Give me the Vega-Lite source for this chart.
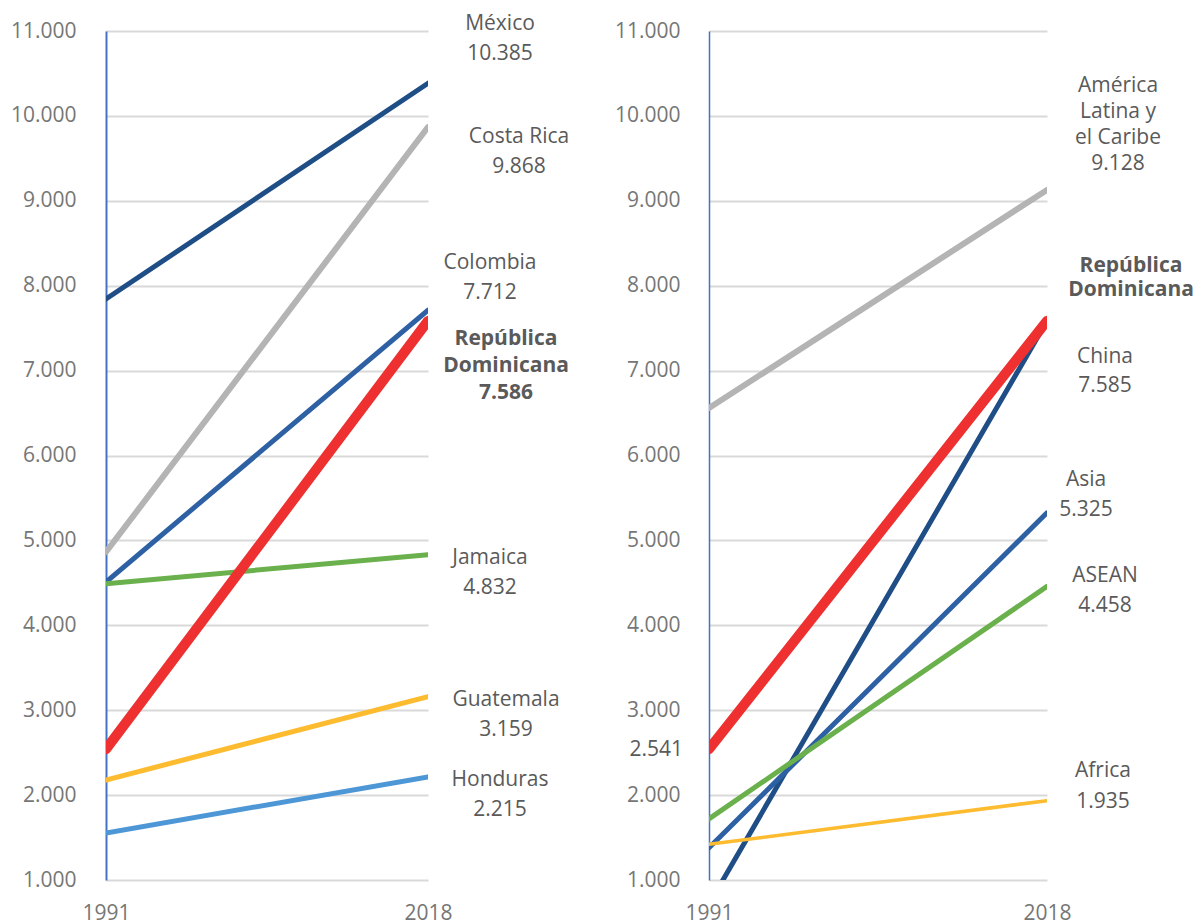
{
  "$schema": "https://vega.github.io/schema/vega-lite/v6.json",
  "padding": {"left": 10, "top": 13, "right": 0, "bottom": 0},
  "bounds": "flush",
  "spacing": 281,
  "config": {
    "font": "Open Sans",
    "view": {"stroke": null},
    "axisX": {"domain": false, "ticks": false, "tickSize": 0, "grid": false, "labelFontSize": 21, "labelColor": "#767676", "labelPadding": 22, "labelAngle": 0, "title": null},
    "axisY": {"domainColor": "#4472c4", "domainWidth": 2, "ticks": false, "tickSize": 0, "grid": true, "gridColor": "#d9d9d9", "gridWidth": 2, "labelFontSize": 21, "labelColor": "#767676", "title": null}
  },
  "datasets": {
    "left": [
      {"name": "México", "year": 1991, "value": 7843},
      {"name": "México", "year": 2018, "value": 10385},
      {"name": "Costa Rica", "year": 1991, "value": 4863},
      {"name": "Costa Rica", "year": 2018, "value": 9868},
      {"name": "Colombia", "year": 1991, "value": 4510},
      {"name": "Colombia", "year": 2018, "value": 7712},
      {"name": "Jamaica", "year": 1991, "value": 4490},
      {"name": "Jamaica", "year": 2018, "value": 4832},
      {"name": "Guatemala", "year": 1991, "value": 2178},
      {"name": "Guatemala", "year": 2018, "value": 3159},
      {"name": "Honduras", "year": 1991, "value": 1554},
      {"name": "Honduras", "year": 2018, "value": 2215},
      {"name": "República Dominicana", "year": 1991, "value": 2541},
      {"name": "República Dominicana", "year": 2018, "value": 7586}
    ],
    "right": [
      {"name": "América Latina y el Caribe", "year": 1991, "value": 6559},
      {"name": "América Latina y el Caribe", "year": 2018, "value": 9128},
      {"name": "China", "year": 1991, "value": 717},
      {"name": "China", "year": 2018, "value": 7585},
      {"name": "Asia", "year": 1991, "value": 1380},
      {"name": "Asia", "year": 2018, "value": 5325},
      {"name": "ASEAN", "year": 1991, "value": 1720},
      {"name": "ASEAN", "year": 2018, "value": 4458},
      {"name": "Africa", "year": 1991, "value": 1420},
      {"name": "Africa", "year": 2018, "value": 1935},
      {"name": "República Dominicana", "year": 1991, "value": 2541},
      {"name": "República Dominicana", "year": 2018, "value": 7586}
    ],
    "labelsL": [
      {"name": "México", "year": 2018, "value": 10385, "label": "México\n10.385"},
      {"name": "Costa Rica", "year": 2018, "value": 9868, "label": "Costa Rica\n9.868"},
      {"name": "Colombia", "year": 2018, "value": 7712, "label": "Colombia\n7.712"},
      {"name": "República Dominicana", "year": 2018, "value": 7586, "label": "República\nDominicana\n7.586"},
      {"name": "Jamaica", "year": 2018, "value": 4832, "label": "Jamaica\n4.832"},
      {"name": "Guatemala", "year": 2018, "value": 3159, "label": "Guatemala\n3.159"},
      {"name": "Honduras", "year": 2018, "value": 2215, "label": "Honduras\n2.215"}
    ],
    "labelsR": [
      {"name": "América Latina y el Caribe", "year": 2018, "value": 9128, "label": "América\nLatina y\nel Caribe\n9.128"},
      {"name": "República Dominicana", "year": 2018, "value": 7586, "label": "República\nDominicana"},
      {"name": "China", "year": 2018, "value": 7585, "label": "China\n7.585"},
      {"name": "Asia", "year": 2018, "value": 5325, "label": "Asia\n5.325"},
      {"name": "ASEAN", "year": 2018, "value": 4458, "label": "ASEAN\n4.458"},
      {"name": "Africa", "year": 2018, "value": 1935, "label": "Africa\n1.935"},
      {"name": "RD1991", "year": 1991, "value": 2541, "label": "2.541"}
    ]
  },
  "hconcat": [
    {
      "width": 322,
      "height": 849,
      "encoding": {
        "x": {"field": "year", "type": "ordinal", "scale": {"type": "point", "padding": 0}, "axis": {}},
        "y": {"field": "value", "type": "quantitative", "scale": {"domain": [1000, 11000], "nice": false, "zero": false}, "axis": {"labelPadding": 30, "values": [1000,2000,3000,4000,5000,6000,7000,8000,9000,10000,11000], "labelExpr": "replace(format(datum.value, ','), ',', '.')"}}
      },
      "layer": [
        {
          "data": {"name": "left"},
          "transform": [{"filter": "datum.name !== 'República Dominicana' && datum.name !== 'Costa Rica'"}],
          "mark": {"type": "line", "strokeWidth": 5, "clip": true, "strokeCap": "round"},
          "encoding": {
            "detail": {"field": "name"},
            "color": {"field": "name", "type": "nominal", "legend": null, "scale": {"domain": ["México", "Costa Rica", "Colombia", "Jamaica", "Guatemala", "Honduras", "República Dominicana"], "range": ["#1f4e87", "#b4b4b4", "#2e60a4", "#6ab04c", "#fdbb2f", "#4e97d6", "#ee3030"]}}
          }
        },
        {
          "data": {"name": "left"},
          "transform": [{"filter": "datum.name === 'Costa Rica'"}],
          "mark": {"type": "line", "strokeWidth": 6, "clip": true, "strokeCap": "round", "color": "#b4b4b4"},
          "encoding": {}
        },
        {
          "data": {"name": "left"},
          "transform": [{"filter": "datum.name === 'República Dominicana'"}],
          "mark": {"type": "line", "strokeWidth": 10, "clip": true, "strokeCap": "round", "color": "#ee3030"},
          "encoding": {}
        },
        {
          "data": {"name": "labelsL"},
          "transform": [{"filter": "datum.name === 'México'"}],
          "mark": {"type": "text", "fontSize": 21, "color": "#5a5a5a", "align": "center", "baseline": "top", "lineBreak": "\n", "lineHeight": 30, "dx": 72, "dy": -70},
          "encoding": {"text": {"field": "label"}}
        },
        {
          "data": {"name": "labelsL"},
          "transform": [{"filter": "datum.name === 'Costa Rica'"}],
          "mark": {"type": "text", "fontSize": 21, "color": "#5a5a5a", "align": "center", "baseline": "top", "lineBreak": "\n", "lineHeight": 30, "dx": 91, "dy": -1},
          "encoding": {"text": {"field": "label"}}
        },
        {
          "data": {"name": "labelsL"},
          "transform": [{"filter": "datum.name === 'Colombia'"}],
          "mark": {"type": "text", "fontSize": 21, "color": "#5a5a5a", "align": "center", "baseline": "top", "lineBreak": "\n", "lineHeight": 30, "dx": 62, "dy": -58},
          "encoding": {"text": {"field": "label"}}
        },
        {
          "data": {"name": "labelsL"},
          "transform": [{"filter": "datum.name === 'República Dominicana'"}],
          "mark": {"type": "text", "fontSize": 21, "fontWeight": "bold", "color": "#5a5a5a", "align": "center", "baseline": "top", "lineBreak": "\n", "lineHeight": 27, "dx": 78, "dy": 7},
          "encoding": {"text": {"field": "label"}}
        },
        {
          "data": {"name": "labelsL"},
          "transform": [{"filter": "datum.name === 'Jamaica'"}],
          "mark": {"type": "text", "fontSize": 21, "color": "#5a5a5a", "align": "center", "baseline": "top", "lineBreak": "\n", "lineHeight": 30, "dx": 62, "dy": -8},
          "encoding": {"text": {"field": "label"}}
        },
        {
          "data": {"name": "labelsL"},
          "transform": [{"filter": "datum.name === 'Guatemala'"}],
          "mark": {"type": "text", "fontSize": 21, "color": "#5a5a5a", "align": "center", "baseline": "top", "lineBreak": "\n", "lineHeight": 30, "dx": 78, "dy": -8},
          "encoding": {"text": {"field": "label"}}
        },
        {
          "data": {"name": "labelsL"},
          "transform": [{"filter": "datum.name === 'Honduras'"}],
          "mark": {"type": "text", "fontSize": 21, "color": "#5a5a5a", "align": "center", "baseline": "top", "lineBreak": "\n", "lineHeight": 30, "dx": 72, "dy": -8},
          "encoding": {"text": {"field": "label"}}
        }
      ]
    },
    {
      "width": 338,
      "height": 849,
      "encoding": {
        "x": {"field": "year", "type": "ordinal", "scale": {"type": "point", "padding": 0}, "axis": {}},
        "y": {"field": "value", "type": "quantitative", "scale": {"domain": [1000, 11000], "nice": false, "zero": false}, "axis": {"labelPadding": 29, "domainWidth": 1.5, "values": [1000,2000,3000,4000,5000,6000,7000,8000,9000,10000,11000], "labelExpr": "replace(format(datum.value, ','), ',', '.')"}}
      },
      "layer": [
        {
          "data": {"name": "right"},
          "transform": [{"filter": "datum.name !== 'República Dominicana' && datum.name !== 'América Latina y el Caribe' && datum.name !== 'Africa'"}],
          "mark": {"type": "line", "strokeWidth": 5, "clip": true, "strokeCap": "round"},
          "encoding": {
            "detail": {"field": "name"},
            "color": {"field": "name", "type": "nominal", "legend": null, "scale": {"domain": ["China", "América Latina y el Caribe", "Asia", "ASEAN", "Africa", "República Dominicana"], "range": ["#1f4e87", "#b4b4b4", "#2e60a4", "#6ab04c", "#fdbb2f", "#ee3030"]}}
          }
        },
        {
          "data": {"name": "right"},
          "transform": [{"filter": "datum.name === 'Africa'"}],
          "mark": {"type": "line", "strokeWidth": 3.5, "clip": true, "strokeCap": "round", "color": "#fdbb2f"},
          "encoding": {}
        },
        {
          "data": {"name": "right"},
          "transform": [{"filter": "datum.name === 'América Latina y el Caribe'"}],
          "mark": {"type": "line", "strokeWidth": 6, "clip": true, "strokeCap": "round", "color": "#b4b4b4"},
          "encoding": {}
        },
        {
          "data": {"name": "right"},
          "transform": [{"filter": "datum.name === 'República Dominicana'"}],
          "mark": {"type": "line", "strokeWidth": 10, "clip": true, "strokeCap": "round", "color": "#ee3030"},
          "encoding": {}
        },
        {
          "data": {"name": "labelsR"},
          "transform": [{"filter": "datum.name === 'América Latina y el Caribe'"}],
          "mark": {"type": "text", "fontSize": 21, "color": "#5a5a5a", "align": "center", "baseline": "top", "lineBreak": "\n", "lineHeight": 26, "dx": 71, "dy": -115},
          "encoding": {"text": {"field": "label"}}
        },
        {
          "data": {"name": "labelsR"},
          "transform": [{"filter": "datum.name === 'República Dominicana'"}],
          "mark": {"type": "text", "fontSize": 21, "fontWeight": "bold", "color": "#5a5a5a", "align": "center", "baseline": "top", "lineBreak": "\n", "lineHeight": 24, "dx": 84, "dy": -66},
          "encoding": {"text": {"field": "label"}}
        },
        {
          "data": {"name": "labelsR"},
          "transform": [{"filter": "datum.name === 'China'"}],
          "mark": {"type": "text", "fontSize": 21, "color": "#5a5a5a", "align": "center", "baseline": "top", "lineBreak": "\n", "lineHeight": 29, "dx": 58, "dy": 25},
          "encoding": {"text": {"field": "label"}}
        },
        {
          "data": {"name": "labelsR"},
          "transform": [{"filter": "datum.name === 'Asia'"}],
          "mark": {"type": "text", "fontSize": 21, "color": "#5a5a5a", "align": "center", "baseline": "top", "lineBreak": "\n", "lineHeight": 30, "dx": 39, "dy": -44},
          "encoding": {"text": {"field": "label"}}
        },
        {
          "data": {"name": "labelsR"},
          "transform": [{"filter": "datum.name === 'ASEAN'"}],
          "mark": {"type": "text", "fontSize": 21, "color": "#5a5a5a", "align": "center", "baseline": "top", "lineBreak": "\n", "lineHeight": 30, "dx": 58, "dy": -21},
          "encoding": {"text": {"field": "label"}}
        },
        {
          "data": {"name": "labelsR"},
          "transform": [{"filter": "datum.name === 'Africa'"}],
          "mark": {"type": "text", "fontSize": 21, "color": "#5a5a5a", "align": "center", "baseline": "top", "lineBreak": "\n", "lineHeight": 31, "dx": 56, "dy": -41},
          "encoding": {"text": {"field": "label"}}
        },
        {
          "data": {"name": "labelsR"},
          "transform": [{"filter": "datum.name === 'RD1991'"}],
          "mark": {"type": "text", "fontSize": 21, "color": "#5a5a5a", "align": "right", "baseline": "middle", "dx": -26, "dy": 1},
          "encoding": {"text": {"field": "label"}}
        }
      ]
    }
  ]
}
